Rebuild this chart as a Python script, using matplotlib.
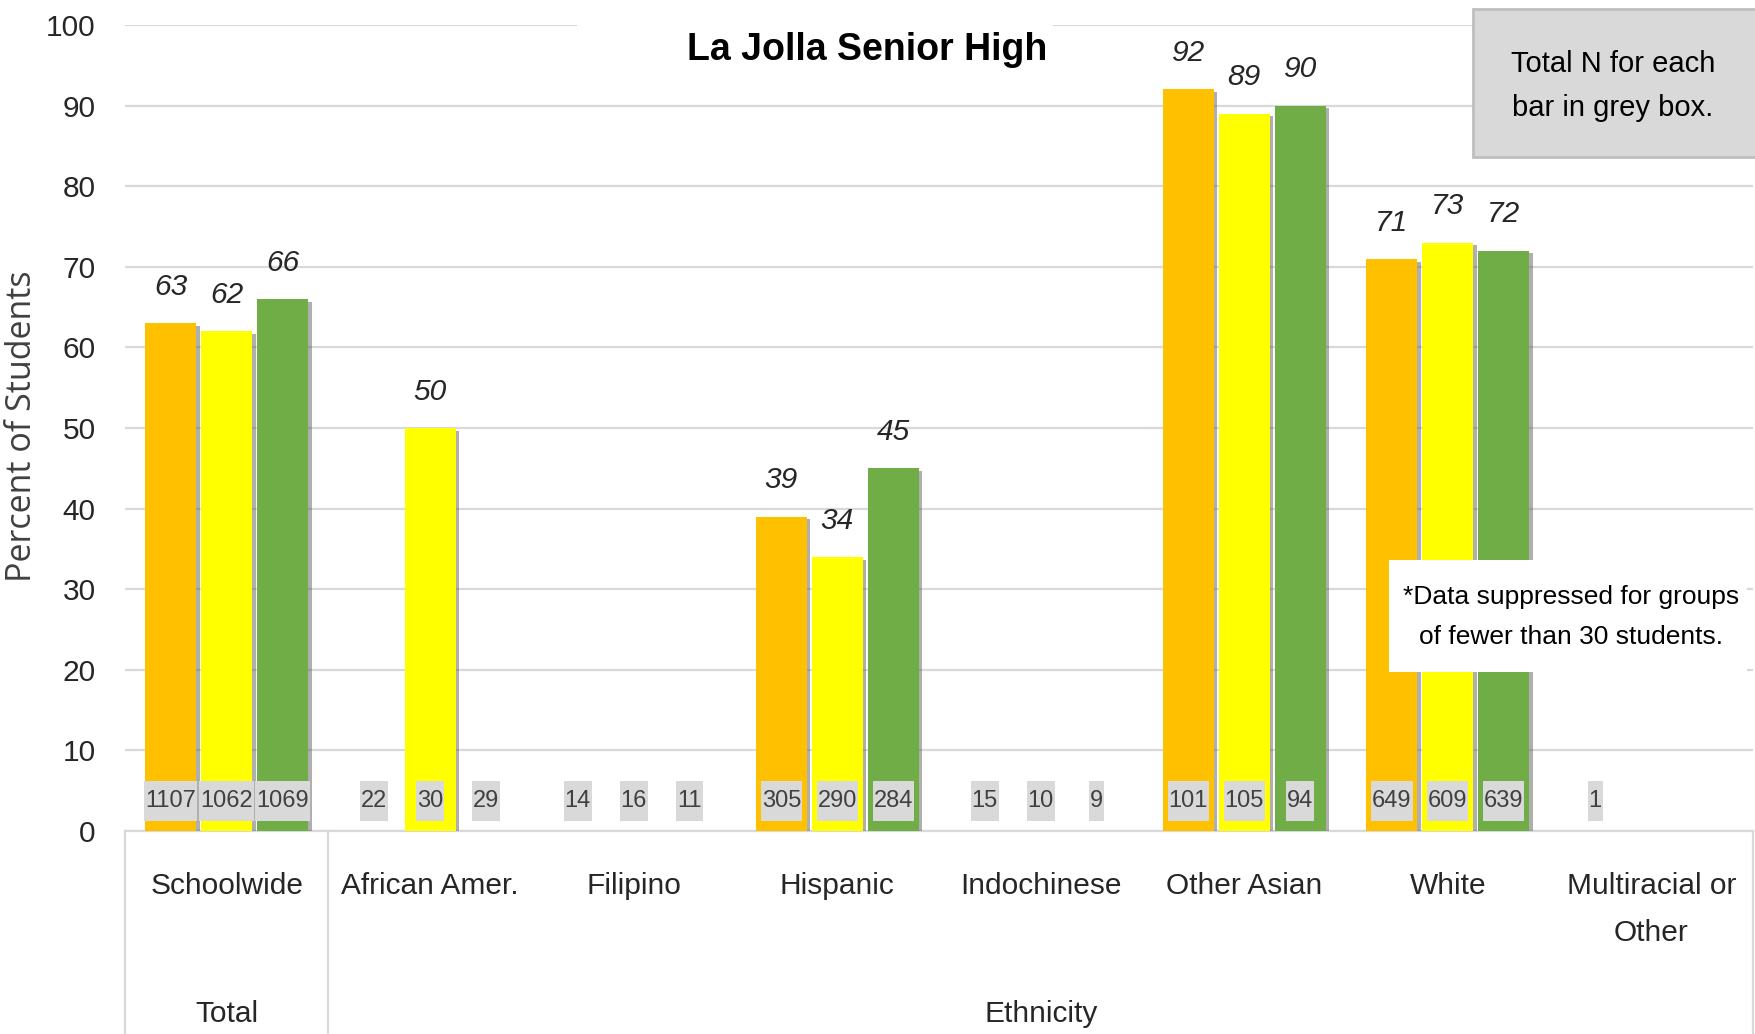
import numpy as np
import matplotlib
matplotlib.use('Agg')
import matplotlib.pyplot as plt
from matplotlib.patches import Rectangle
import matplotlib.patheffects as pe
from matplotlib.transforms import blended_transform_factory

# ---------------- data ----------------
categories = ['Schoolwide', 'African Amer.', 'Filipino', 'Hispanic',
              'Indochinese', 'Other Asian', 'White', 'Multiracial or\nOther']
group_names = ['Total', 'Ethnicity']
group_spans = [(0, 0), (1, 7)]
nan = np.nan
series1 = [63, nan, nan, 39, nan, 92, 71, nan]
series2 = [62, 50, nan, 34, nan, 89, 73, nan]
series3 = [66, nan, nan, 45, nan, 90, 72, nan]
n1 = ['1107', '22', '14', '305', '15', '101', '649', '1']
n2 = ['1062', '30', '16', '290', '10', '105', '609', '']
n3 = ['1069', '29', '11', '284', '9', '94', '639', '']
yticks = [0, 10, 20, 30, 40, 50, 60, 70, 80, 90, 100]
title = 'La Jolla Senior High'
ylabel = 'Percent of Students'
note_n = 'Total N for each\nbar in grey box.'
note_supp = '*Data suppressed for groups\nof fewer than 30 students.'

colors = ['#FFC000', '#FFFF00', '#70AD47']
FONT = ['Liberation Sans', 'DejaVu Sans']
TXT = '#262626'
GRID = '#d9d9d9'

plt.rcParams['font.family'] = FONT

W, H = 1756, 1034
fig = plt.figure(figsize=(W / 100, H / 100), dpi=100)
ax_l, ax_r, ax_b, ax_t = 125, 1753, 831, 25
ax = fig.add_axes([ax_l / W, (H - ax_b) / H, (ax_r - ax_l) / W, (ax_b - ax_t) / H])

x = np.arange(len(categories))
offs = [-0.275, 0.0, 0.275]
bw = 0.25
shadow = [pe.SimplePatchShadow(offset=(2.5, -2.0), shadow_rgbFace='#606060', alpha=0.5), pe.Normal()]
for s, (vals, c) in enumerate(zip([series1, series2, series3], colors)):
    bars = ax.bar(x + offs[s], vals, width=bw, color=c, zorder=3)
    for b in bars:
        b.set_path_effects(shadow)
    for xi, v in zip(x, vals):
        if not np.isnan(v):
            ax.annotate(f'{v:g}', (xi + offs[s], v), xytext=(0, 16), textcoords='offset points',
                        ha='center', va='bottom', fontsize=21.5, style='italic', color=TXT, zorder=5)

ax.set_xlim(-0.5, len(categories) - 0.5)
ax.set_ylim(0, 100)
ax.set_yticks(yticks)
ax.set_yticklabels([str(t) for t in yticks], fontsize=21.5, color=TXT)
ax.tick_params(axis='y', length=0, pad=21)
ax.tick_params(axis='x', length=0, labelbottom=False)
ax.grid(axis='y', color=GRID, lw=1.6, zorder=0)
ax.set_axisbelow(True)
for sp in ['left', 'right', 'top']:
    ax.spines[sp].set_visible(False)
ax.spines['bottom'].set_color(GRID)
ax.spines['bottom'].set_linewidth(1.6)

# N labels (grey boxes)
n_texts = []
for s, ns in enumerate([n1, n2, n3]):
    for xi, t in zip(x, ns):
        if t:
            tt = ax.text(xi + offs[s], 3.7, t, ha='center', va='center', fontsize=17,
                         color='#404040', zorder=6)
            n_texts.append(tt)

# category axis (two-level)
tr = blended_transform_factory(ax.transData, ax.transAxes)
bottom_ax = -(H - ax_b) / (ax_b - ax_t)
for xi, c in zip(x, categories):
    ax.text(xi, -0.051, c, transform=tr, ha='center', va='top', fontsize=21.5,
            color=TXT, linespacing=1.85, clip_on=False)
for g, (a, b) in zip(group_names, group_spans):
    ax.text((a + b) / 2, -0.227, g, transform=tr, ha='center', va='center', fontsize=21.5,
            color=TXT, clip_on=False)
for xv in [-0.5, 0.5, len(categories) - 0.5]:
    ax.plot([xv, xv], [0, bottom_ax], transform=tr, color=GRID, lw=1.6, clip_on=False, zorder=1)

# y label
fig.text(22 / W, 1 - 426 / H, ylabel, rotation=90, ha='center', va='center', fontsize=24.5,
         color='#404040', family=['Open Sans', 'DejaVu Sans'])

# title with white background covering grid
fig.add_artist(Rectangle((577 / W, 1 - 62 / H), (1053 - 577) / W, 58 / H,
                         transform=fig.transFigure, facecolor='white', edgecolor='none', zorder=2))
fig.text(867 / W, 1 - 50 / H, title, ha='center', va='center', fontsize=27,
         fontweight='bold', color='black', zorder=3)

# grey note box
fig.add_artist(Rectangle((1473 / W, 1 - 157 / H), (1760 - 1473) / W, (157 - 9) / H,
                         transform=fig.transFigure, facecolor='#d9d9d9', edgecolor='#bfbfbf',
                         lw=2, zorder=2))
fig.text(1613 / W, 1 - 86 / H, note_n, ha='center', va='center', fontsize=21,
         color='black', linespacing=1.75, zorder=3)

# suppression note
fig.add_artist(Rectangle((1389 / W, 1 - 672 / H), (1747 - 1389) / W, (672 - 560) / H,
                         transform=fig.transFigure, facecolor='white', edgecolor='none', zorder=2))
fig.text(1571 / W, 1 - 617 / H, note_supp, ha='center', va='center', fontsize=19,
         color='black', linespacing=1.8, zorder=3)

# grey boxes behind N labels, sized from the rendered text
fig.canvas.draw()
inv = ax.transData.inverted()
for tt in n_texts:
    bb = tt.get_window_extent()
    (x0, y0) = inv.transform((bb.x0 - 1, bb.y0 - 9))
    (x1, y1) = inv.transform((bb.x1 + 1, bb.y1 + 9))
    ax.add_patch(Rectangle((x0, y0), x1 - x0, y1 - y0, facecolor='#d9d9d9',
                           edgecolor='none', zorder=5))

fig.savefig('out.png', dpi=100, facecolor='white')
